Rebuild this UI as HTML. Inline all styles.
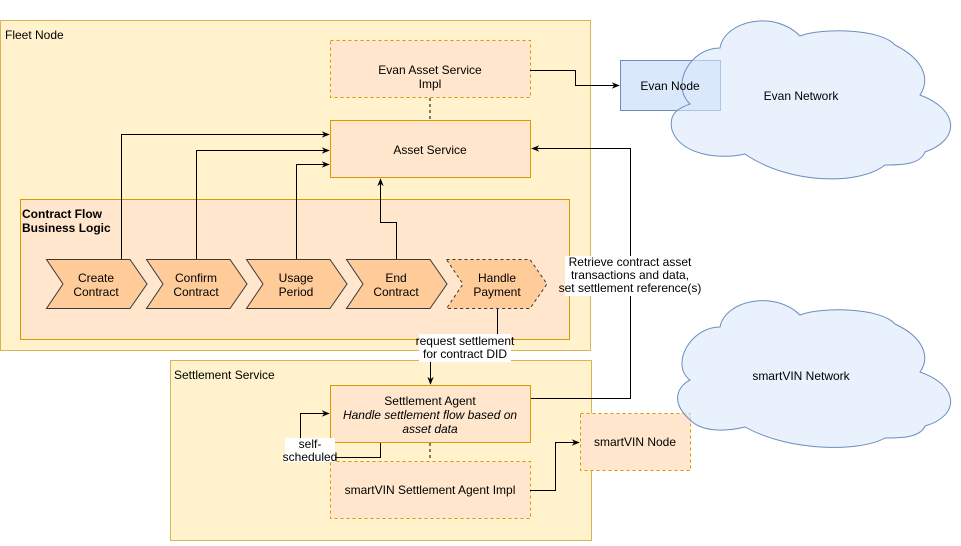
<!DOCTYPE html>
<html><head><meta charset="utf-8"><style>
body{margin:0;background:#fff}
svg text{font-family:"Liberation Sans",Helvetica,sans-serif;font-size:12px;fill:#000}
</style></head><body>
<svg width="961" height="541" viewBox="0 0 961 541" xmlns="http://www.w3.org/2000/svg">
<defs><marker id="a" viewBox="0 0 10 10" refX="9" refY="5" markerWidth="8" markerHeight="8" orient="auto"><path d="M0,1 L10,5 L0,9 L3,5z" fill="#000"/></marker></defs>
<!-- Fleet node -->
<rect x="0.5" y="20.5" width="590" height="330" fill="#fff2cc" stroke="#d6b656"/>
<text x="5" y="39">Fleet Node</text>
<rect x="330.5" y="40.5" width="200" height="57" fill="#ffe6cc" stroke="#d79b00" stroke-dasharray="3,3"/>
<text x="430" y="74" text-anchor="middle">Evan Asset Service</text>
<text x="430" y="88" text-anchor="middle">Impl</text>
<rect x="330.5" y="120.5" width="200" height="57" fill="#ffe6cc" stroke="#d79b00"/>
<text x="430" y="154" text-anchor="middle">Asset Service</text>
<line x1="430" y1="98" x2="430" y2="120" stroke="#000" stroke-dasharray="3,3"/>
<rect x="20.5" y="199.5" width="549" height="140" fill="#ffe6cc" stroke="#d79b00"/>
<text x="22" y="218" font-weight="bold">Contract Flow</text>
<text x="22" y="232" font-weight="bold">Business Logic</text>
<g fill="#ffcc99" stroke="#36393d">
<path d="M46.5,259.5 H130 L147,284 L130,308.5 H46.5 L63,284z"/>
<path d="M146.5,259.5 H230 L247,284 L230,308.5 H146.5 L163,284z"/>
<path d="M246.5,259.5 H330 L347,284 L330,308.5 H246.5 L263,284z"/>
<path d="M346.5,259.5 H430 L447,284 L430,308.5 H346.5 L363,284z"/>
<path d="M446.5,259.5 H530 L547,284 L530,308.5 H446.5 L463,284z" stroke-dasharray="3,3"/>
</g>
<g text-anchor="middle">
<text x="96" y="282">Create</text><text x="96" y="296">Contract</text>
<text x="196" y="282">Confirm</text><text x="196" y="296">Contract</text>
<text x="296" y="282">Usage</text><text x="296" y="296">Period</text>
<text x="396" y="282">End</text><text x="396" y="296">Contract</text>
<text x="497" y="282">Handle</text><text x="497" y="296">Payment</text>
</g>
<g fill="none" stroke="#000">
<path d="M121.5,259 V134.5 H329" marker-end="url(#a)"/>
<path d="M196.5,259 V150.5 H329" marker-end="url(#a)"/>
<path d="M296.5,259 V164.5 H329" marker-end="url(#a)"/>
<path d="M396.5,259 V222.5 H380.5 V179" marker-end="url(#a)"/>
<path d="M530,70.5 H575.5 V85.5 H619" marker-end="url(#a)"/>
</g>
<!-- Settlement -->
<rect x="170.5" y="360.5" width="421" height="180" fill="#fff2cc" stroke="#d6b656"/>
<text x="174" y="379">Settlement Service</text>
<path d="M530,398.5 H630.5 V148.5 H532" fill="none" stroke="#000" marker-end="url(#a)"/>
<rect x="330.5" y="385.5" width="200" height="57" fill="#ffe6cc" stroke="#d79b00"/>
<text x="430" y="405" text-anchor="middle">Settlement Agent</text>
<text x="430" y="419" text-anchor="middle" font-style="italic">Handle settlement flow based on</text>
<text x="430" y="433" text-anchor="middle" font-style="italic">asset data</text>
<rect x="330.5" y="461.5" width="200" height="57" fill="#ffe6cc" stroke="#d79b00" stroke-dasharray="3,3"/>
<text x="430" y="494" text-anchor="middle">smartVIN Settlement Agent Impl</text>
<line x1="430" y1="443" x2="430" y2="461" stroke="#000" stroke-dasharray="3,3"/>
<g fill="none" stroke="#000">
<path d="M497.5,309 V345 H430.5 V384" marker-end="url(#a)"/>
<path d="M380.5,443 V457.5 H300.5 V413.5 H329" marker-end="url(#a)"/>
<path d="M530,490.5 H555.5 V442.5 H579" marker-end="url(#a)"/>
</g>
<rect x="419" y="334" width="92" height="28" fill="#fff"/>
<text x="465" y="345" text-anchor="middle" font-size="11">request settlement</text>
<text x="465" y="358" text-anchor="middle" font-size="11">for contract DID</text>
<rect x="285" y="438" width="50" height="24" fill="#fff"/>
<text x="310" y="448" text-anchor="middle" font-size="11">self-</text>
<text x="310" y="461" text-anchor="middle" font-size="11">scheduled</text>
<rect x="565" y="256" width="132" height="40" fill="#fff"/>
<g text-anchor="middle" font-size="11"><text x="630" y="266" font-size="11">Retrieve contract asset</text>
<text x="630" y="279" font-size="11">transactions and data,</text>
<text x="630" y="292" font-size="11">set settlement reference(s)</text></g>
<!-- Evan -->
<rect x="620.5" y="60.5" width="100" height="50" fill="#dae8fc" stroke="#6c8ebf"/>
<path d="M720,48 C725,20 775,10 800,36 C820,28 880,28 895,45 C925,60 930,80 920,95 C960,110 960,140 925,152 C920,165 900,165 885,165 C860,185 790,185 745,154 C720,160 680,155 672,130 C668,112 680,108 690,104 C670,85 690,48 720,48z" fill="#dae8fc" fill-opacity="0.6" stroke="#6c8ebf"/>
<text x="670" y="90" text-anchor="middle">Evan Node</text>
<text x="801" y="100" text-anchor="middle">Evan Network</text>
<rect x="580.5" y="413.5" width="110" height="57" fill="#ffe6cc" stroke="#d79b00" stroke-dasharray="3,3"/>
<path d="M720,327 C725,300 775,290 800,315 C820,307 880,307 895,324 C925,338 930,358 920,372 C960,386 960,416 925,426 C920,438 900,438 885,438 C860,452 790,452 745,427 C720,433 700,430 690,420 C668,400 680,385 690,380 C670,365 690,327 720,327z" fill="#dae8fc" fill-opacity="0.6" stroke="#6c8ebf"/>
<text x="801" y="380" text-anchor="middle">smartVIN Network</text>
<text x="635" y="446" text-anchor="middle">smartVIN Node</text>
</svg>
</body></html>
